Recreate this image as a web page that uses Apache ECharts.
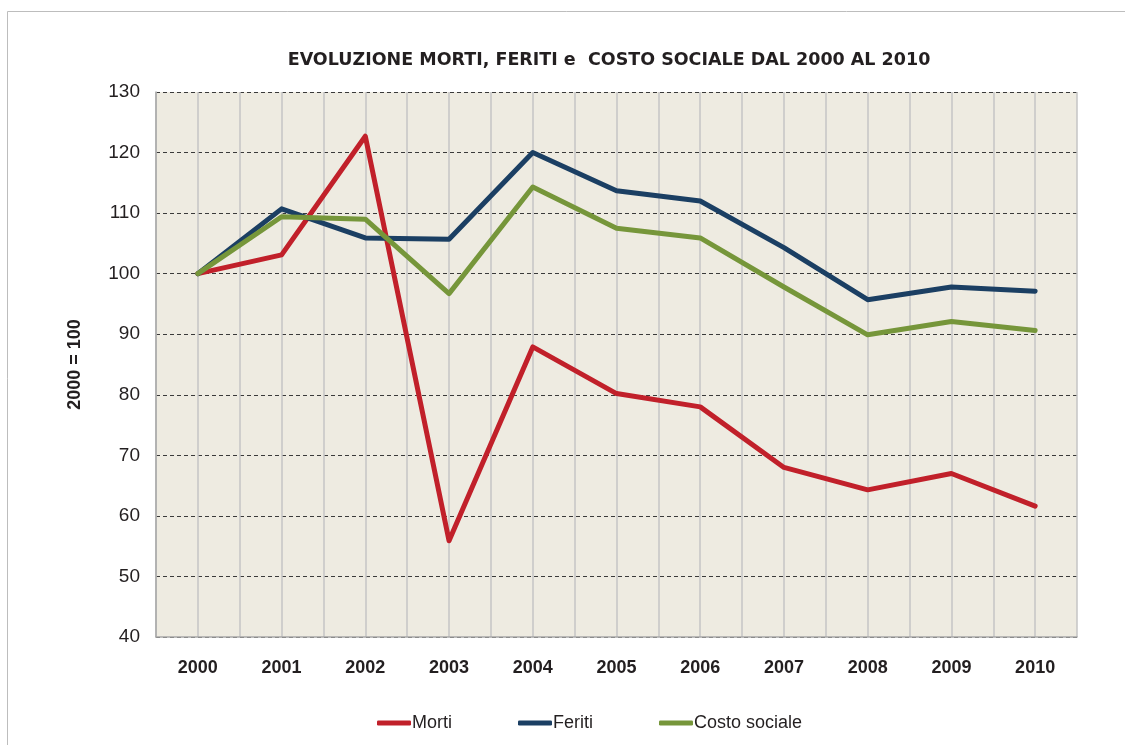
<!DOCTYPE html>
<html lang="it">
<head>
    <meta charset="utf-8">
    <title>Evoluzione morti, feriti e costo sociale</title>
    <script src="https://cdn.jsdelivr.net/npm/echarts@6/dist/echarts.min.js"></script>
    <style>
        html, body { margin: 0; padding: 0; background: #fff; }
        #main { width: 1125px; height: 745px; }
    </style>
</head>
<body>
<div id="main"></div>

<script type="text/javascript">
    // dati (indice 2000 = 100)
    var anni = ['2000','2001','2002','2003','2004','2005','2006','2007','2008','2009','2010'];
    var morti = [100, 103.1, 122.7, 55.9, 87.9, 80.2, 78.0, 68.0, 64.3, 67.0, 61.6];
    var feriti = [100, 110.7, 105.9, 105.7, 120.0, 113.7, 112.0, 104.3, 95.7, 97.8, 97.1];
    var costoSociale = [100, 109.4, 109.0, 96.7, 114.3, 107.5, 105.9, 97.8, 89.9, 92.1, 90.6];
    var yTicks = [40, 130, 10]; // min, max, interval

    var fontNarrow = '"Liberation Sans Narrow", "Liberation Sans", Arial, sans-serif';

    var myChart = echarts.init(document.getElementById('main'));

    var linea = function (nome, dati, colore) {
        return {
            name: nome,
            type: 'line',
            xAxisIndex: 0,
            data: dati,
            symbol: 'none',
            lineStyle: { color: colore, width: 5, cap: 'round', join: 'round' },
            itemStyle: { color: colore }
        };
    };

    myChart.setOption({
        animation: false,
        backgroundColor: '#fff',
        title: {
            text: 'EVOLUZIONE MORTI, FERITI e  COSTO SOCIALE DAL 2000 AL 2010',
            left: 604,
            textAlign: 'center',
            top: 46,
            textStyle: {
                fontFamily: '"DejaVu Sans", sans-serif',
                fontWeight: 'bold',
                fontSize: 17.5,
                color: '#231f20'
            }
        },
        legend: {
            bottom: 8,
            left: 372,
            itemWidth: 34,
            itemHeight: 5,
            itemGap: 66,
            icon: 'roundRect',
            data: ['Morti', 'Feriti', 'Costo sociale'],
            textStyle: { fontFamily: fontNarrow, fontSize: 18, color: '#231f20', padding: [0, 0, 0, -4] }
        },
        grid: {
            left: 156,
            right: 48,
            top: 92,
            bottom: 108,
            show: true,
            backgroundColor: '#EEEBE1',
            borderWidth: 0
        },
        xAxis: [{
            type: 'category',
            data: anni,
            boundaryGap: true,
            axisLine: { show: true, lineStyle: { color: '#A8A8A8', width: 1.5 } },
            axisTick: { show: false },
            splitLine: { show: false },
            axisLabel: {
                margin: 22,
                fontFamily: fontNarrow,
                fontWeight: 'bold',
                fontSize: 18,
                color: '#231f20'
            }
        }, {
            // linee verticali ogni mezzo anno
            type: 'value',
            min: 0,
            max: anni.length * 2,
            interval: 1,
            show: true,
            position: 'bottom',
            axisLine: { show: false },
            axisTick: { show: false },
            axisLabel: { show: false },
            splitLine: { show: true, lineStyle: { color: '#C4C4C4', width: 1.5 } }
        }],
        yAxis: {
            type: 'value',
            min: yTicks[0],
            max: yTicks[1],
            interval: yTicks[2],
            name: '2000 = 100',
            nameLocation: 'middle',
            nameGap: 72,
            nameRotate: 90,
            nameTextStyle: {
                fontFamily: fontNarrow,
                fontWeight: 'bold',
                fontSize: 18,
                color: '#231f20'
            },
            axisLine: { show: true, lineStyle: { color: '#A8A8A8', width: 1.5 } },
            axisTick: { show: false },
            axisLabel: {
                margin: 16,
                fontFamily: fontNarrow,
                fontSize: 19,
                color: '#231f20'
            },
            splitLine: {
                show: true,
                lineStyle: { color: '#3a3a3a', width: 1, type: [4, 3] }
            }
        },
        graphic: [{
            type: 'rect',
            shape: { x: 7.5, y: 11.5, width: 1200, height: 800 },
            style: { fill: 'none', stroke: '#BDBDBD', lineWidth: 1 },
            silent: true,
            z: -1
        }],
        series: [
            linea('Morti', morti, '#C1202A'),
            linea('Feriti', feriti, '#1B3F63'),
            linea('Costo sociale', costoSociale, '#76963A')
        ]
    });
</script>
</body>
</html>
